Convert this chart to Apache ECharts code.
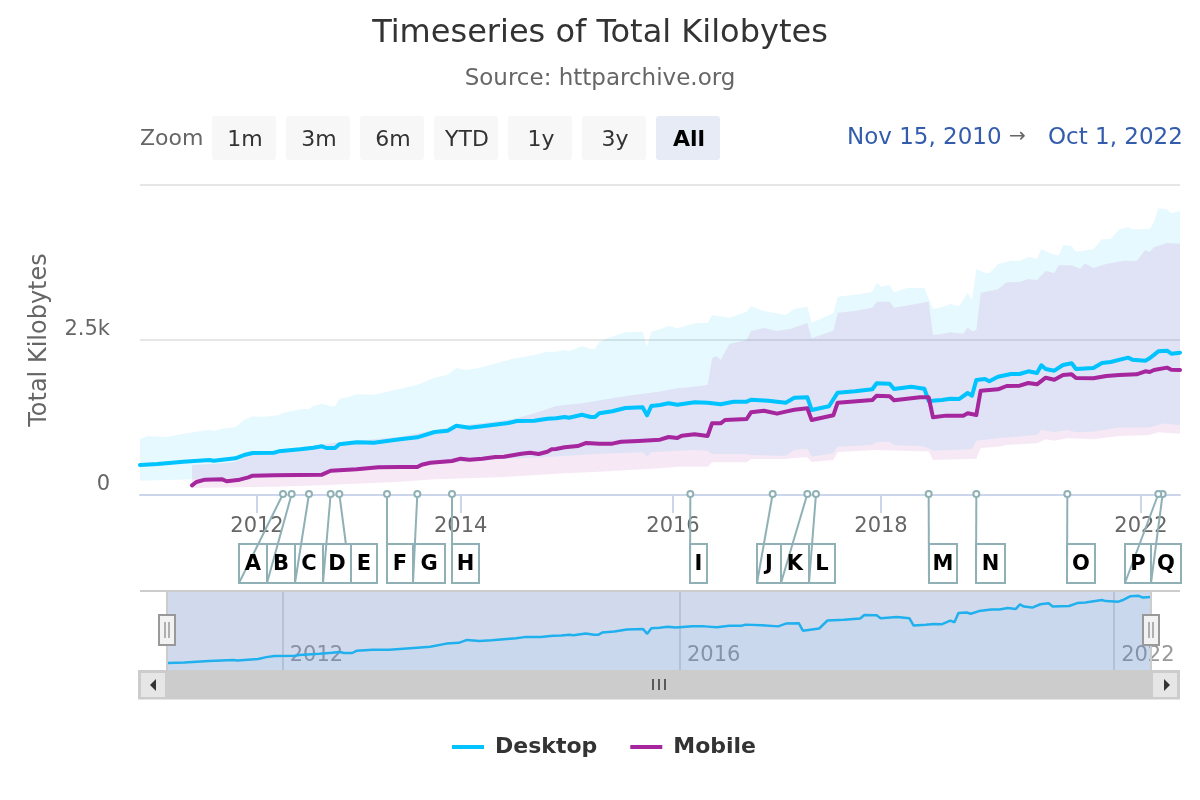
<!DOCTYPE html>
<html>
<head>
<meta charset="utf-8">
<title>Timeseries of Total Kilobytes</title>
<script src="https://cdn.jsdelivr.net/npm/echarts@6/dist/echarts.min.js"></script>
<style>
  html, body { margin: 0; padding: 0; background: #fff; }
  #chart { width: 1200px; height: 800px; }
</style>
</head>
<body>
<div id="chart"></div>
<script>
// release dates of the crawl: twice a month up to the end of 2018, monthly after that
const releases = ['2010-11-15', '2010-12-01', '2010-12-15']
for (let y = 2011; y <= 2022; y++) {
    for (let m = 1; m <= 12; m++) {
        if (y === 2022 && m > 10) break
        const mm = String(m).padStart(2, '0')
        releases.push(y + '-' + mm + '-01')
        if (y <= 2018) releases.push(y + '-' + mm + '-15')
    }
}

// the release each year label sits on
const yearTicks = ['2012-01-01', '2013-12-15', '2016-01-01', '2018-01-01', '2022-01-01']
const yearLabels = ['2012', '2014', '2016', '2018', '2022']
const navTicks = ['2012-01-15', '2016-02-01', '2022-01-01']
const navLabels = ['2012', '2016', '2022']
const yTickLabels = { 0: '0', 2500: '2.5k', 5000: '5k' }

// every series: release number + kilobytes read at that release
const desktopRel = [0, 4, 10, 16, 17, 22, 24, 26, 31, 32, 37, 40, 42, 43, 45, 46, 50, 54, 60, 64, 68, 71, 73, 76, 79, 85, 87, 91, 94, 96, 98, 99, 102, 104, 105, 106, 109, 112, 116, 117, 118, 120, 122, 124, 128, 131, 134, 137, 140, 141, 145, 149, 151, 154, 155, 159, 161, 165, 169, 170, 173, 174, 178, 181, 182, 185, 187, 189, 191, 192, 193, 195, 196, 198, 201, 203, 205, 207, 208, 209, 211, 213, 215, 216, 220, 222, 224, 228, 229, 232, 233, 235, 237, 238, 240]
const desktopKb = [484, 500, 537, 565, 553, 592, 645, 677, 682, 705, 737, 763, 785, 758, 758, 818, 850, 844, 898, 930, 1016, 1037, 1118, 1086, 1108, 1161, 1194, 1198, 1231, 1237, 1258, 1247, 1295, 1258, 1258, 1318, 1350, 1403, 1414, 1285, 1436, 1452, 1479, 1457, 1495, 1489, 1463, 1505, 1505, 1537, 1521, 1489, 1570, 1576, 1371, 1431, 1650, 1673, 1705, 1802, 1795, 1710, 1747, 1715, 1516, 1532, 1553, 1548, 1645, 1602, 1855, 1871, 1834, 1908, 1952, 1952, 1995, 1968, 2092, 2032, 2005, 2097, 2124, 2032, 2048, 2129, 2145, 2215, 2183, 2167, 2205, 2317, 2328, 2280, 2296]

const mobileRel = [12, 13, 15, 19, 20, 23, 25, 26, 31, 42, 44, 50, 55, 60, 64, 65, 67, 72, 74, 76, 79, 82, 84, 88, 90, 92, 94, 95, 96, 98, 101, 103, 106, 109, 111, 115, 120, 122, 124, 125, 128, 131, 132, 134, 135, 140, 141, 144, 147, 149, 151, 154, 155, 160, 161, 169, 170, 173, 174, 180, 182, 183, 186, 190, 191, 193, 194, 198, 200, 203, 205, 207, 209, 211, 213, 215, 216, 220, 223, 226, 230, 232, 233, 234, 237, 238, 240]
const mobileKb = [156, 210, 247, 253, 221, 247, 285, 311, 318, 328, 392, 414, 447, 452, 452, 489, 521, 548, 586, 569, 586, 613, 618, 666, 682, 661, 698, 737, 742, 769, 790, 839, 828, 828, 860, 871, 892, 936, 919, 957, 979, 952, 1156, 1156, 1210, 1226, 1333, 1360, 1312, 1344, 1376, 1398, 1210, 1285, 1489, 1532, 1602, 1592, 1527, 1576, 1576, 1253, 1280, 1280, 1318, 1290, 1682, 1705, 1758, 1763, 1806, 1785, 1892, 1860, 1936, 1946, 1887, 1882, 1919, 1936, 1946, 1995, 1984, 2016, 2054, 2021, 2016]

// percentile bands
const desktopHighRel = [0, 2, 6, 10, 16, 17, 19, 22, 24, 26, 28, 32, 33, 37, 39, 40, 42, 44, 45, 46, 48, 50, 54, 60, 64, 68, 71, 73, 75, 78, 86, 91, 94, 96, 98, 99, 102, 104, 105, 106, 108, 112, 116, 117, 118, 120, 122, 124, 128, 131, 132, 136, 140, 141, 144, 149, 151, 154, 155, 160, 161, 166, 169, 170, 171, 173, 174, 177, 181, 183, 185, 187, 189, 191, 192, 193, 195, 196, 198, 201, 203, 205, 207, 208, 210, 212, 213, 215, 216, 220, 222, 224, 226, 228, 229, 233, 234, 235, 237, 238, 240]
const desktopHighKb = [908, 952, 936, 989, 1053, 1032, 1069, 1092, 1210, 1269, 1258, 1285, 1323, 1382, 1387, 1436, 1473, 1431, 1431, 1553, 1576, 1624, 1618, 1715, 1779, 1892, 1941, 2049, 2017, 2043, 2199, 2258, 2312, 2312, 2339, 2317, 2403, 2355, 2360, 2468, 2532, 2624, 2634, 2392, 2634, 2675, 2731, 2689, 2769, 2779, 2903, 2860, 2957, 3044, 2968, 2903, 3000, 3037, 2779, 2931, 3199, 3237, 3279, 3424, 3360, 3387, 3269, 3339, 3339, 3000, 3027, 3081, 3043, 3263, 3145, 3640, 3586, 3576, 3726, 3780, 3775, 3839, 3807, 3968, 3899, 3860, 4033, 4016, 3925, 3963, 4124, 4129, 4286, 4318, 4286, 4291, 4409, 4624, 4608, 4544, 4581]

const desktopLowRel = [0, 12, 24, 26, 42, 44, 50, 60, 68, 76, 83, 91, 106, 116, 117, 118, 120, 128, 131, 132, 140, 141, 149, 151, 154, 155, 160, 161, 169, 170, 173, 174, 180, 181, 183, 192, 193, 198, 207, 208, 211, 214, 216, 220, 226, 233, 236, 240]
const desktopLowKb = [231, 253, 270, 300, 320, 375, 395, 430, 500, 537, 581, 601, 661, 689, 618, 689, 698, 726, 714, 661, 661, 645, 629, 726, 742, 618, 672, 779, 806, 855, 855, 801, 790, 779, 714, 737, 876, 915, 968, 1048, 1011, 1048, 1011, 1021, 1090, 1090, 1155, 1124]

const mobileHighRel = [12, 19, 22, 26, 44, 60, 72, 86, 91, 96, 102, 111, 120, 124, 128, 131, 132, 133, 134, 136, 140, 141, 144, 147, 150, 154, 155, 160, 161, 165, 169, 170, 173, 174, 180, 182, 183, 185, 187, 190, 191, 192, 193, 194, 198, 200, 203, 205, 207, 209, 211, 212, 215, 217, 218, 220, 223, 227, 230, 232, 233, 234, 237, 240]
const mobileHighKb = [484, 511, 537, 672, 833, 940, 1102, 1221, 1318, 1436, 1479, 1586, 1670, 1721, 1747, 1779, 2205, 2242, 2178, 2436, 2500, 2645, 2694, 2645, 2677, 2774, 2527, 2650, 2941, 2968, 3021, 3118, 3118, 3021, 3092, 3118, 2581, 2597, 2624, 2602, 2705, 2640, 2661, 3263, 3318, 3431, 3436, 3484, 3468, 3613, 3581, 3705, 3705, 3650, 3737, 3661, 3726, 3780, 3775, 3952, 3920, 3995, 4065, 4054]

const mobileLowRel = [12, 23, 31, 42, 60, 68, 83, 98, 106, 120, 124, 131, 132, 140, 141, 149, 151, 154, 155, 160, 161, 170, 180, 182, 183, 193, 194, 198, 200, 207, 209, 211, 214, 220, 226, 233, 235, 240]
const mobileLowKb = [113, 124, 134, 156, 215, 253, 285, 350, 376, 430, 457, 457, 527, 527, 581, 581, 597, 608, 532, 565, 694, 726, 705, 705, 565, 586, 758, 779, 806, 834, 898, 876, 915, 898, 952, 968, 1011, 989]

// annotation flags
const flagLetters = ['A', 'B', 'C', 'D', 'E', 'F', 'G', 'H', 'I', 'J', 'K', 'L', 'M', 'N', 'O', 'P', 'Q']
const flagDates = ['2012-04-01', '2012-05-01', '2012-07-01', '2012-09-15', '2012-10-15', '2013-04-01', '2013-07-15', '2013-11-15', '2016-03-01', '2016-12-15', '2017-04-15', '2017-05-15', '2018-06-15', '2018-12-01', '2020-08-01', '2022-05-01', '2022-06-01']

const FONT = '"DejaVu Sans"'
const BLUE = '#00c3ff'
const PURPLE = '#a6269e'
const FLAG = '#8fb1b6'

// where the label boxes landed (left, right), they get pushed aside when flags are close
const flagBoxes = [[239, 267], [267, 295], [295, 323], [323, 351], [351, 377], [387, 413], [413, 445], [452, 479], [690, 707], [757, 781], [781, 809], [809, 835], [929, 957], [976, 1005], [1067, 1095], [1125, 1151], [1151, 1181]]
const BOX_TOP = 544
const BOX_BOTTOM = 583

const pairs = (rel, kb) => rel.map((r, i) => [r, kb[i]])

// one polygon per band, upper edge forward and lower edge back
function bandSeries(name, highRel, highKb, lowRel, lowKb, color) {
    const upper = pairs(highRel, highKb)
    const lower = pairs(lowRel, lowKb).reverse()
    return {
        type: 'custom',
        name: name,
        silent: true,
        z: 1,
        xAxisIndex: 0,
        yAxisIndex: 0,
        data: [[0, 0]],
        renderItem: function (params, api) {
            const points = upper.concat(lower).map(p => api.coord(p))
            return { type: 'polygon', shape: { points: points }, style: { fill: color } }
        }
    }
}

function flagSeries() {
    const items = flagLetters.map((l, i) => [releases.indexOf(flagDates[i]), 0, i]).reverse()
    return {
        type: 'custom',
        silent: true,
        clip: false,
        z: 20,
        xAxisIndex: 0,
        yAxisIndex: 0,
        data: items,
        encode: { x: 0, y: 1 },
        renderItem: function (params, api) {
            const anchor = api.coord([api.value(0), 0])
            const i = api.value(2)
            const box = flagBoxes[i]
            const ay = anchor[1] - 1
            return {
                type: 'group',
                children: [
                    { type: 'rect', shape: { x: box[0], y: BOX_TOP, width: box[1] - box[0], height: BOX_BOTTOM - BOX_TOP }, style: { fill: '#fff', stroke: FLAG, lineWidth: 2 } },
                    { type: 'line', shape: { x1: anchor[0], y1: ay, x2: box[0], y2: BOX_BOTTOM }, style: { stroke: FLAG, lineWidth: 2 } },
                    { type: 'circle', shape: { cx: anchor[0], cy: ay, r: 3 }, style: { fill: '#fff', stroke: FLAG, lineWidth: 2 } },
                    { type: 'text', x: (box[0] + box[1]) / 2, y: (BOX_TOP + BOX_BOTTOM) / 2 + 1, style: { text: flagLetters[i], fill: '#000', font: 'bold 21px ' + FONT, align: 'center', verticalAlign: 'middle' } }
                ]
            }
        }
    }
}

// range selector, navigator and scrollbar decoration
const buttons = [['1m', 212], ['3m', 286], ['6m', 360], ['YTD', 434], ['1y', 508], ['3y', 582], ['All', 656]]
const graphicEls = []
function addText(text, x, y, fill, font, align, z) {
    graphicEls.push({ type: 'text', x: x, y: y, z: z || 10, style: { text: text, fill: fill, font: font, align: align || 'left', verticalAlign: 'middle' } })
}
function addRect(x, y, w, h, style, z, r) {
    graphicEls.push({ type: 'rect', z: z || 10, shape: { x: x, y: y, width: w, height: h, r: r || 0 }, style: style })
}
function addLine(x1, y1, x2, y2, stroke, width, z) {
    graphicEls.push({ type: 'line', z: z || 10, shape: { x1: x1, y1: y1, x2: x2, y2: y2 }, style: { stroke: stroke, lineWidth: width } })
}

addText('Zoom', 140, 139, '#666', '22px ' + FONT)
buttons.forEach(b => {
    const active = b[0] === 'All'
    addRect(b[1], 116, 64, 44, { fill: active ? '#e6ebf5' : '#f7f7f7' }, 10, 3)
    addText(b[0], b[1] + 33, 140, active ? '#000' : '#333', (active ? 'bold ' : '') + '22px ' + FONT, 'center')
})
addText('Nov 15, 2010', 847, 138, '#335cad', '23px ' + FONT)
addText('→', 1009, 137, '#666', '20px ' + FONT)
addText('Oct 1, 2022', 1048, 138, '#335cad', '23px ' + FONT)

addRect(167, 591, 984, 80, { fill: 'rgba(102,133,194,0.3)' }, 30)
addLine(140, 591, 1180, 591, '#ccc', 2, 31)
addLine(167, 591, 167, 671, '#ccc', 2, 31)
addLine(1151, 591, 1151, 671, '#ccc', 2, 31)

addRect(138, 670, 1042, 29.5, { fill: '#ccc' }, 31)
addRect(140, 672, 26, 26, { fill: '#e6e6e6', stroke: '#ccc', lineWidth: 2 }, 32)
addRect(1152, 672, 26, 26, { fill: '#e6e6e6', stroke: '#ccc', lineWidth: 2 }, 32)
graphicEls.push({ type: 'polygon', z: 33, shape: { points: [[156, 679], [156, 691], [150, 685]] }, style: { fill: '#333' } })
graphicEls.push({ type: 'polygon', z: 33, shape: { points: [[1164, 679], [1164, 691], [1170, 685]] }, style: { fill: '#333' } })
;[653, 659, 665].forEach(x => addLine(x, 679, x, 690, '#333', 1.5, 33))

;[[159, 165, 169], [1143, 1149, 1153]].forEach(h => {
    addRect(h[0], 615, 16, 30, { fill: '#f2f2f2', stroke: '#999', lineWidth: 2 }, 34)
    addLine(h[1], 622, h[1], 638, '#999', 1.5, 35)
    addLine(h[2], 622, h[2], 638, '#999', 1.5, 35)
})

const myChart = echarts.init(document.getElementById('chart'))
const option = {
    animation: false,
    textStyle: { fontFamily: FONT },
    title: {
        text: 'Timeseries of Total Kilobytes',
        subtext: 'Source: httparchive.org',
        left: 'center',
        top: 13,
        itemGap: 18,
        textStyle: { fontFamily: FONT, fontSize: 32, fontWeight: 'normal', color: '#333' },
        subtextStyle: { fontFamily: FONT, fontSize: 23, color: '#666' }
    },
    legend: {
        data: ['Desktop', 'Mobile'],
        left: 447,
        top: 731,
        icon: 'rect',
        itemWidth: 32,
        itemHeight: 4,
        itemGap: 33,
        selectedMode: false,
        textStyle: { fontFamily: FONT, fontSize: 22, fontWeight: 'bold', color: '#333', padding: [0, 0, 0, 6] }
    },
    grid: [
        { left: 140, top: 185, width: 1040, height: 310 },
        { left: 168, top: 591, width: 983, height: 80 }
    ],
    xAxis: [{
        type: 'category',
        gridIndex: 0,
        data: releases,
        boundaryGap: false,
        axisLine: { lineStyle: { color: '#ccd6eb', width: 2 } },
        axisTick: { alignWithLabel: true, length: 18, lineStyle: { color: '#ccd6eb', width: 2 }, interval: (i, v) => yearTicks.includes(v) },
        axisLabel: { interval: (i, v) => yearTicks.includes(v), formatter: v => yearLabels[yearTicks.indexOf(v)], fontSize: 21, color: '#666', margin: 21, fontFamily: FONT, hideOverlap: false },
        splitLine: { show: false }
    }, {
        type: 'category',
        gridIndex: 1,
        data: releases,
        boundaryGap: false,
        axisLine: { show: false },
        axisTick: { show: false },
        axisLabel: { inside: true, interval: (i, v) => navTicks.includes(v), formatter: v => navLabels[navTicks.indexOf(v)], align: 'left', padding: [0, 0, 0, 7], fontSize: 21, color: '#999', margin: 5, fontFamily: FONT, hideOverlap: false },
        splitLine: { show: true, interval: (i, v) => navTicks.includes(v), lineStyle: { color: '#ddd', width: 2 } }
    }],
    yAxis: [{
        type: 'value',
        gridIndex: 0,
        min: 0,
        max: 5000,
        interval: 2500,
        name: 'Total Kilobytes',
        nameLocation: 'middle',
        nameGap: 88,
        nameTextStyle: { fontFamily: FONT, fontSize: 24, color: '#666' },
        axisLine: { show: false },
        axisTick: { show: false },
        axisLabel: { formatter: v => yTickLabels[v], showMaxLabel: false, fontSize: 21, color: '#666', margin: 30, verticalAlign: 'bottom', fontFamily: FONT },
        splitLine: { lineStyle: { color: '#e6e6e6', width: 2 } }
    }, {
        type: 'value',
        gridIndex: 1,
        min: 264,
        max: 2460,
        show: false,
        splitLine: { show: false }
    }],
    graphic: { elements: graphicEls },
    series: [
        bandSeries('Desktop range', desktopHighRel, desktopHighKb, desktopLowRel, desktopLowKb, 'rgba(0,195,255,0.1)'),
        bandSeries('Mobile range', mobileHighRel, mobileHighKb, mobileLowRel, mobileLowKb, 'rgba(166,38,158,0.1)'),
        {
            name: 'Desktop',
            type: 'line',
            xAxisIndex: 0,
            yAxisIndex: 0,
            z: 5,
            showSymbol: false,
            symbol: 'none',
            color: BLUE,
            lineStyle: { width: 4, color: BLUE, cap: 'round', join: 'round' },
            data: pairs(desktopRel, desktopKb)
        },
        {
            name: 'Mobile',
            type: 'line',
            xAxisIndex: 0,
            yAxisIndex: 0,
            z: 6,
            showSymbol: false,
            symbol: 'none',
            color: PURPLE,
            lineStyle: { width: 4, color: PURPLE, cap: 'round', join: 'round' },
            data: pairs(mobileRel, mobileKb)
        },
        flagSeries(),
        {
            name: 'Navigator',
            type: 'line',
            xAxisIndex: 1,
            yAxisIndex: 1,
            showSymbol: false,
            symbol: 'none',
            silent: true,
            lineStyle: { width: 2.5, color: BLUE },
            areaStyle: { color: 'rgba(0,195,255,0.06)' },
            data: pairs(desktopRel, desktopKb)
        }
    ]
}
myChart.setOption(option)
</script>
</body>
</html>
